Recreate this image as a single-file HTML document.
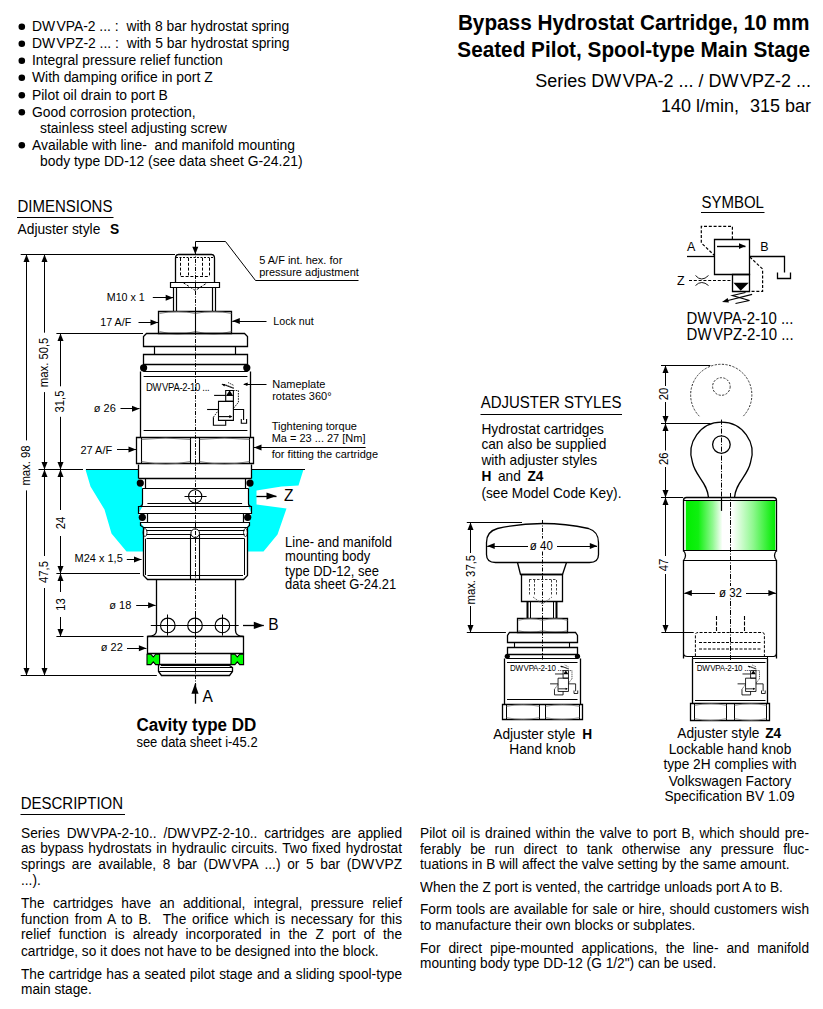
<!DOCTYPE html>
<html><head><meta charset="utf-8">
<style>
html,body{margin:0;padding:0;background:#fff;}
body{width:823px;height:1009px;position:relative;overflow:hidden;font-family:"Liberation Sans",sans-serif;color:#000;}
svg{position:absolute;left:0;top:0;}
svg text{font-family:"Liberation Sans",sans-serif;fill:#000;stroke:none;}
.jl,.ll{position:absolute;font-size:13.7px;line-height:16px;white-space:nowrap;transform:scaleY(1.06);transform-origin:0 12px;}
.g{margin-left:1.2px;}
.jl{text-align:justify;text-align-last:justify;white-space:normal;}
</style></head><body>
<svg width="823" height="1009" viewBox="0 0 823 1009" stroke="#000" fill="none" stroke-linecap="butt">

<circle cx="21.8" cy="26.7" r="3.3" fill="#000" stroke="none"/>
<text transform="translate(32,31) scale(1,1.06)" font-size="13.9" text-anchor="start" >DW<tspan dx="1.25">V</tspan>PA-2 ... :&#160; with 8 bar hydrostat spring</text>
<circle cx="21.8" cy="43.7" r="3.3" fill="#000" stroke="none"/>
<text transform="translate(32,48) scale(1,1.06)" font-size="13.9" text-anchor="start" >DW<tspan dx="1.25">V</tspan>PZ-2 ... :&#160; with 5 bar hydrostat spring</text>
<circle cx="21.8" cy="60.7" r="3.3" fill="#000" stroke="none"/>
<text transform="translate(32,65) scale(1,1.06)" font-size="13.9" text-anchor="start" >Integral pressure relief function</text>
<circle cx="21.8" cy="77.7" r="3.3" fill="#000" stroke="none"/>
<text transform="translate(32,82) scale(1,1.06)" font-size="13.9" text-anchor="start" >With damping orifice in port Z</text>
<circle cx="21.8" cy="95.2" r="3.3" fill="#000" stroke="none"/>
<text transform="translate(32,99.5) scale(1,1.06)" font-size="13.9" text-anchor="start" >Pilot oil drain to port B</text>
<circle cx="21.8" cy="112.2" r="3.3" fill="#000" stroke="none"/>
<text transform="translate(32,116.5) scale(1,1.06)" font-size="13.9" text-anchor="start" >Good corrosion protection,</text>
<text transform="translate(40,132.5) scale(1,1.06)" font-size="13.9" text-anchor="start" >stainless steel adjusting screw</text>
<circle cx="21.8" cy="145.2" r="3.3" fill="#000" stroke="none"/>
<text transform="translate(32,149.5) scale(1,1.06)" font-size="13.9" text-anchor="start" >Available with line-&#160; and manifold mounting</text>
<text transform="translate(40,165.5) scale(1,1.06)" font-size="13.9" text-anchor="start" >body type DD-12 (see data sheet G-24.21)</text>
<text transform="translate(809.5,30) scale(1,1.06)" font-size="20.75" text-anchor="end" font-weight="bold" >Bypass Hydrostat Cartridge, 10 mm</text>
<text transform="translate(810,57) scale(1,1.06)" font-size="20.75" text-anchor="end" font-weight="bold" >Seated Pilot, Spool-type Main Stage</text>
<text transform="translate(811,87) scale(1,1.06)" font-size="18" text-anchor="end" >Series DW<tspan dx="1.62">V</tspan>PA-2 ... / DW<tspan dx="1.62">V</tspan>PZ-2 ...</text>
<text transform="translate(811,112) scale(1,1.06)" font-size="18" text-anchor="end" >140 l/min, <tspan dx="6">315 bar</tspan></text>
<text transform="translate(17.5,211.6) scale(1,1.06)" font-size="15" text-anchor="start" >DIMENSIONS</text>
<line x1="17" y1="217.5" x2="113.5" y2="217.5" stroke-width="1.2" />
<text transform="translate(17.5,234.3) scale(1,1.06)" font-size="13.8" text-anchor="start" >Adjuster style</text>
<text transform="translate(110,234.3) scale(1,1.06)" font-size="13.8" text-anchor="start" font-weight="bold" >S</text>
<text transform="translate(701.5,207.6) scale(1,1.06)" font-size="15" text-anchor="start" >SYMBOL</text>
<line x1="701" y1="212.5" x2="764.5" y2="212.5" stroke-width="1.2" />
<text transform="translate(480.7,408.3) scale(1,1.06)" font-size="15" text-anchor="start" >ADJUSTER STYLES</text>
<line x1="480.5" y1="414.5" x2="622" y2="414.5" stroke-width="1.2" />
<text transform="translate(20.7,808.9) scale(1,1.06)" font-size="15" text-anchor="start" >DESCRIPTION</text>
<line x1="20.5" y1="814.5" x2="125" y2="814.5" stroke-width="1.2" />
<path d="M85.5 469.5L90.5 486.5L104.5 509.5L111.5 533.5L126.5 551.5L143.5 551.5L143.5 526.5L140.5 522.5L138.5 513.5L142.5 506.5L142.5 488.5L138.5 478.5L138.5 469.5Z" stroke-width="0" fill="#00ffff" stroke="none"/>
<path d="M251.5 469.5L303.5 469.5L298.5 485.5L281.5 486.5L256.5 490.5L256.5 504.5L286.5 508.5L277.5 534.5L263.5 551.5L247.5 551.5L247.5 526.5L249.5 522.5L251.5 513.5L248.5 506.5L248.5 488.5L251.5 478.5Z" stroke-width="0" fill="#00ffff" stroke="none"/>
<line x1="86" y1="469.5" x2="138.7" y2="469.5" stroke-width="1.2" />
<line x1="251.6" y1="469.5" x2="305" y2="469.5" stroke-width="1.2" />
<path d="M175.5 282.5L175.5 258.5Q175.5 254.5 178.5 254.5L211.5 254.5Q214.5 254.5 214.5 258.5L214.5 282.5" stroke-width="1.3" fill="none" />
<line x1="176" y1="257.5" x2="214" y2="257.5" stroke-width="1" stroke-dasharray="2,1.5"/>
<line x1="180.5" y1="258" x2="180.5" y2="276" stroke-width="1" stroke-dasharray="3,1.8"/>
<line x1="188.5" y1="258" x2="188.5" y2="276" stroke-width="1" stroke-dasharray="3,1.8"/>
<line x1="202.5" y1="258" x2="202.5" y2="276" stroke-width="1" stroke-dasharray="3,1.8"/>
<line x1="209.5" y1="258" x2="209.5" y2="276" stroke-width="1" stroke-dasharray="3,1.8"/>
<line x1="180.8" y1="276.5" x2="209.7" y2="276.5" stroke-width="1" stroke-dasharray="3,1.8"/>
<path d="M183.4,282.8 L195.3,290.5 L207.2,282.8" stroke-width="1" fill="none" stroke-dasharray="2.5,1.5"/>
<path d="M170.5 282.5H219.5V287.5H170.5Z" stroke-width="1.2" fill="none" />
<line x1="173.5" y1="287.6" x2="173.5" y2="311.2" stroke-width="1.2" />
<line x1="176.5" y1="287.6" x2="176.5" y2="311.2" stroke-width="1.2" />
<line x1="212.5" y1="287.6" x2="212.5" y2="311.2" stroke-width="1.2" />
<line x1="215.5" y1="287.6" x2="215.5" y2="311.2" stroke-width="1.2" />
<path d="M158.5 311.5H231.5V333.5H158.5Z" stroke-width="1.3" fill="none" />
<line x1="195.5" y1="311.2" x2="195.5" y2="333" stroke-width="1.1" />
<path d="M159.5 313.5Q177.5 309.5 195.5 313.5Q213.5 309.5 231.5 313.5" stroke-width="0.8" fill="none" stroke="#666"/>
<path d="M159.5 331.5Q177.5 336.5 195.5 331.5Q213.5 336.5 231.5 331.5" stroke-width="0.8" fill="none" stroke="#666"/>
<path d="M143.5 346.5V336.5L146.5 333.5H244.5L247.5 336.5V346.5Z" stroke-width="1.3" fill="none" />
<line x1="154.5" y1="346.3" x2="154.5" y2="354.8" stroke-width="1.2" />
<line x1="235.5" y1="346.3" x2="235.5" y2="354.8" stroke-width="1.2" />
<path d="M143.5 354.5H247.5V364.5H143.5Z" stroke-width="1.3" fill="none" />
<path d="M143.5 364.5V371.5M247.5 364.5V371.5M143.5 371.5H247.5" stroke-width="1.2" fill="none" />
<circle cx="143.6" cy="367.8" r="3.6" fill="#000" stroke="none"/>
<circle cx="246.8" cy="367.8" r="3.6" fill="#000" stroke="none"/>
<path d="M140.5 371.5V437.5M250.5 371.5V437.5" stroke-width="1.3" fill="none" />
<line x1="143.6" y1="376.5" x2="247.4" y2="376.5" stroke-width="1.2" />
<line x1="143.6" y1="430.5" x2="247.4" y2="430.5" stroke-width="1.2" />
<text transform="translate(146,390.5) scale(1,1.06)" font-size="9.5" text-anchor="start" letter-spacing="-0.3">DW<tspan dx="0.85">V</tspan>PA-2-10 ...</text>
<path d="M136.5 437.5H253.5V463.5H136.5Z" stroke-width="1.3" fill="none" />
<line x1="141.5" y1="437.3" x2="141.5" y2="463.8" stroke-width="1.1" />
<line x1="190.5" y1="437.3" x2="190.5" y2="463.8" stroke-width="1.1" />
<line x1="199.5" y1="437.3" x2="199.5" y2="463.8" stroke-width="1.1" />
<line x1="249.5" y1="437.3" x2="249.5" y2="463.8" stroke-width="1.1" />
<path d="M141.5 439.5Q165.5 436.5 190.5 439.5M199.5 439.5Q224.5 436.5 249.5 439.5" stroke-width="0.8" fill="none" stroke="#666"/>
<path d="M141.5 461.5Q165.5 466.5 190.5 461.5M199.5 461.5Q224.5 466.5 249.5 461.5" stroke-width="0.8" fill="none" stroke="#666"/>
<path d="M138.5 464.5V478.5M251.5 464.5V478.5M138.5 478.5H251.5" stroke-width="1.3" fill="none" />
<path d="M145.5 478.5V488.5M245.5 478.5V488.5M142.5 488.5H248.5" stroke-width="1.2" fill="none" />
<circle cx="140.3" cy="483.1" r="3.6" fill="#000" stroke="none"/>
<circle cx="250" cy="483.1" r="3.6" fill="#000" stroke="none"/>
<path d="M142.5 488.5V503.5Q142.5 506.5 139.5 506.5M248.5 488.5V503.5Q248.5 506.5 251.5 506.5" stroke-width="1.2" fill="none" />
<line x1="147.4" y1="503.5" x2="242.1" y2="503.5" stroke-width="1.1" />
<circle cx="195.2" cy="496.4" r="6.6" stroke-width="1.1"/>
<line x1="184.5" y1="496.5" x2="206.6" y2="496.5" stroke-width="1" />
<path d="M138.5 506.5H251.5V513.5H138.5Z" stroke-width="1.2" fill="none" />
<path d="M147.5 513.5V522.5M243.5 513.5V522.5" stroke-width="1.2" fill="none" />
<circle cx="142.3" cy="517.3" r="3.6" fill="#000" stroke="none"/>
<circle cx="247.7" cy="517.3" r="3.6" fill="#000" stroke="none"/>
<path d="M140.5 522.5H249.5V525.5L247.5 527.5H143.5L140.5 525.5Z" stroke-width="1.2" fill="none" />
<path d="M143.5 527.5V575.5L147.5 579.5H243.5L247.5 575.5V527.5" stroke-width="1.3" fill="none" />
<line x1="146.5" y1="530.5" x2="244.5" y2="530.5" stroke-width="1" />
<line x1="146.5" y1="534.5" x2="244.5" y2="534.5" stroke-width="1" />
<line x1="146.5" y1="538.5" x2="244.5" y2="538.5" stroke-width="1" />
<line x1="145.5" y1="538.7" x2="145.5" y2="575" stroke-width="1" />
<line x1="244.5" y1="538.7" x2="244.5" y2="575" stroke-width="1" />
<line x1="147.4" y1="575.5" x2="243" y2="575.5" stroke-width="1" />
<line x1="190.5" y1="534" x2="190.5" y2="579.8" stroke-width="1.1" />
<line x1="199.5" y1="534" x2="199.5" y2="579.8" stroke-width="1.1" />
<circle cx="195.2" cy="533.2" r="4.3" fill="#fff" stroke-width="1"/>
<ellipse cx="145" cy="532.5" rx="2" ry="4" stroke-width="0.8"/>
<ellipse cx="245.5" cy="532.5" rx="2" ry="4" stroke-width="0.8"/>
<path d="M156.5 579.5V630.5Q156.5 636.5 147.5 636.5M235.5 579.5V630.5Q235.5 636.5 243.5 636.5" stroke-width="1.3" fill="none" />
<circle cx="167.8" cy="625.4" r="7.3" stroke-width="1.1"/>
<line x1="167.5" y1="614.5" x2="167.5" y2="635.6" stroke-width="1" />
<circle cx="195" cy="625.4" r="7.3" stroke-width="1.1"/>
<line x1="195.5" y1="614.5" x2="195.5" y2="635.6" stroke-width="1" />
<circle cx="222.4" cy="625.4" r="7.3" stroke-width="1.1"/>
<line x1="222.5" y1="614.5" x2="222.5" y2="635.6" stroke-width="1" />
<line x1="150.8" y1="625.5" x2="238.7" y2="625.5" stroke-width="1" />
<path d="M147.5 636.5H243.5V653.5H147.5Z" stroke-width="1.3" fill="none" />
<path d="M147,654.2 H150.9 L153.3,657 L155.70000000000002,654.2 H159.6 V664.6 H155.70000000000002 L153.3,661.8 L150.9,664.6 H147 Z" fill="#00ff00" stroke="#000" stroke-width="1.1"/>
<path d="M231,654.2 H234.9 L237.3,657 L239.70000000000002,654.2 H243.6 V664.6 H239.70000000000002 L237.3,661.8 L234.9,664.6 H231 Z" fill="#00ff00" stroke="#000" stroke-width="1.1"/>
<path d="M158.5 664.5V671.5L161.5 675.5H229.5L232.5 671.5V667.5L229.5 665.5" stroke-width="1.3" fill="none" />
<line x1="159.3" y1="664.5" x2="231" y2="664.5" stroke-width="1.3" />
<line x1="161" y1="665.5" x2="230" y2="665.5" stroke-width="1" />
<line x1="160" y1="667.5" x2="232" y2="667.5" stroke-width="1.1" />
<line x1="159" y1="671.5" x2="232" y2="671.5" stroke-width="1.1" />
<line x1="195.5" y1="243" x2="195.5" y2="703" stroke-width="1" stroke-dasharray="4,1.5,1,1.5"/>
<line x1="20.7" y1="254.5" x2="175" y2="254.5" stroke-width="1" />
<line x1="56.4" y1="333.5" x2="143" y2="333.5" stroke-width="1" />
<line x1="38.5" y1="469.5" x2="83" y2="469.5" stroke-width="1" />
<line x1="56.4" y1="573.5" x2="140" y2="573.5" stroke-width="1" />
<line x1="56.4" y1="636.5" x2="143.5" y2="636.5" stroke-width="1" />
<line x1="20.7" y1="675.5" x2="156.8" y2="675.5" stroke-width="1" />
<line x1="26.5" y1="254.5" x2="26.5" y2="440.4" stroke-width="1" />
<line x1="26.5" y1="490.4" x2="26.5" y2="675.5" stroke-width="1" />
<path d="M26.5,254.5 L29.5,262.0 L23.5,262.0 Z" fill="#000" stroke="none"/>
<path d="M26.5,675.5 L23.5,668.0 L29.5,668.0 Z" fill="#000" stroke="none"/>
<text x="0" y="0" font-size="11.3" text-anchor="middle" transform="translate(30.2,465.5) rotate(-90) scale(1,1.06)">max. 98</text>
<line x1="44.5" y1="254.5" x2="44.5" y2="332.7" stroke-width="1" />
<line x1="44.5" y1="392.1" x2="44.5" y2="469.5" stroke-width="1" />
<path d="M44.5,254.5 L47.5,262.0 L41.5,262.0 Z" fill="#000" stroke="none"/>
<path d="M44.5,469.5 L41.5,462.0 L47.5,462.0 Z" fill="#000" stroke="none"/>
<text x="0" y="0" font-size="11.3" text-anchor="middle" transform="translate(48,362.4) rotate(-90) scale(1,1.06)">max. 50,5</text>
<line x1="44.5" y1="469.5" x2="44.5" y2="556" stroke-width="1" />
<line x1="44.5" y1="588" x2="44.5" y2="675.5" stroke-width="1" />
<path d="M44.5,469.5 L47.5,477.0 L41.5,477.0 Z" fill="#000" stroke="none"/>
<path d="M44.5,675.5 L41.5,668.0 L47.5,668.0 Z" fill="#000" stroke="none"/>
<text x="0" y="0" font-size="11.3" text-anchor="middle" transform="translate(48,572) rotate(-90) scale(1,1.06)">47,5</text>
<line x1="60.5" y1="333.5" x2="60.5" y2="386.3" stroke-width="1" />
<line x1="60.5" y1="416.8" x2="60.5" y2="469.5" stroke-width="1" />
<path d="M60.5,333.5 L63.5,341.0 L57.5,341.0 Z" fill="#000" stroke="none"/>
<path d="M60.5,469.5 L57.5,462.0 L63.5,462.0 Z" fill="#000" stroke="none"/>
<text x="0" y="0" font-size="11.3" text-anchor="middle" transform="translate(63.6,401.5) rotate(-90) scale(1,1.06)">31,5</text>
<line x1="60.5" y1="469.5" x2="60.5" y2="510" stroke-width="1" />
<line x1="60.5" y1="536" x2="60.5" y2="573.5" stroke-width="1" />
<path d="M60.5,469.5 L63.5,477.0 L57.5,477.0 Z" fill="#000" stroke="none"/>
<path d="M60.5,573.5 L57.5,566.0 L63.5,566.0 Z" fill="#000" stroke="none"/>
<text x="0" y="0" font-size="11.3" text-anchor="middle" transform="translate(64.6,523) rotate(-90) scale(1,1.06)">24</text>
<line x1="60.5" y1="573.5" x2="60.5" y2="592" stroke-width="1" />
<line x1="60.5" y1="617" x2="60.5" y2="636.5" stroke-width="1" />
<path d="M60.5,573.5 L63.5,581.0 L57.5,581.0 Z" fill="#000" stroke="none"/>
<path d="M60.5,636.5 L57.5,629.0 L63.5,629.0 Z" fill="#000" stroke="none"/>
<text x="0" y="0" font-size="11.3" text-anchor="middle" transform="translate(64.6,604.5) rotate(-90) scale(1,1.06)">13</text>
<text transform="translate(144.8,300.6) scale(1,1.06)" font-size="10.7" text-anchor="end" >M10 x 1</text>
<line x1="152.8" y1="297.5" x2="173.2" y2="297.5" stroke-width="1" />
<path d="M173.2,297.8 L165.7,300.8 L165.7,294.8 Z" fill="#000" stroke="none"/>
<text transform="translate(131.2,325.6) scale(1,1.06)" font-size="10.7" text-anchor="end" >17 A/F</text>
<line x1="138.5" y1="322.5" x2="158" y2="322.5" stroke-width="1" />
<path d="M158.0,322.4 L150.5,325.4 L150.5,319.4 Z" fill="#000" stroke="none"/>
<text transform="translate(273.3,324.8) scale(1,1.06)" font-size="10.7" text-anchor="start" >Lock nut</text>
<line x1="266.5" y1="321.5" x2="232.3" y2="321.5" stroke-width="1" />
<path d="M232.3,321.0 L239.8,318.0 L239.8,324.0 Z" fill="#000" stroke="none"/>
<text transform="translate(259.2,264) scale(1,1.06)" font-size="11" text-anchor="start" >5 A/F int. hex. for</text>
<text transform="translate(259.2,276) scale(1,1.06)" font-size="11" text-anchor="start" >pressure adjustment</text>
<path d="M195.5 247.5V241.5H225.5L255.5 280.5H358.5" stroke-width="1" fill="none" />
<path d="M195.3,254.3 L192.3,246.8 L198.3,246.8 Z" fill="#000" stroke="none"/>
<text transform="translate(272.2,388.1) scale(1,1.06)" font-size="11" text-anchor="start" >Nameplate</text>
<text transform="translate(272.2,399.5) scale(1,1.06)" font-size="11" text-anchor="start" >rotates 360°</text>
<line x1="266.5" y1="384.5" x2="243.7" y2="384.5" stroke-width="1" />
<path d="M243.7,384.0 L247.7,382.4 L247.7,385.6 Z" fill="#000" stroke="none"/>
<text transform="translate(271.7,430.3) scale(1,1.06)" font-size="11" text-anchor="start" >Tightening torque</text>
<text transform="translate(271.7,442.4) scale(1,1.06)" font-size="11" text-anchor="start" >Ma = 23 ... 27 [Nm]</text>
<line x1="365.6" y1="447.5" x2="254" y2="447.5" stroke-width="1" />
<path d="M254.0,447.4 L261.5,444.4 L261.5,450.4 Z" fill="#000" stroke="none"/>
<text transform="translate(271.7,457.7) scale(1,1.06)" font-size="11" text-anchor="start" >for fitting the cartridge</text>
<text transform="translate(115.8,411.6) scale(1,1.06)" font-size="11" text-anchor="end" >ø 26</text>
<line x1="120.5" y1="408.5" x2="139.5" y2="408.5" stroke-width="1" />
<path d="M139.5,408.8 L132.0,411.8 L132.0,405.8 Z" fill="#000" stroke="none"/>
<text transform="translate(112.2,453.5) scale(1,1.06)" font-size="11" text-anchor="end" >27 A/F</text>
<line x1="117" y1="449.5" x2="136" y2="449.5" stroke-width="1" />
<path d="M136.0,449.6 L128.5,452.6 L128.5,446.6 Z" fill="#000" stroke="none"/>
<text transform="translate(122.8,562) scale(1,1.06)" font-size="11" text-anchor="end" >M24 x 1,5</text>
<line x1="126.8" y1="559.5" x2="141.5" y2="559.5" stroke-width="1" />
<path d="M141.5,559.4 L134.0,562.4 L134.0,556.4 Z" fill="#000" stroke="none"/>
<text transform="translate(131.3,608.9) scale(1,1.06)" font-size="11" text-anchor="end" >ø 18</text>
<line x1="136.2" y1="605.5" x2="155.6" y2="605.5" stroke-width="1" />
<path d="M155.6,605.2 L148.1,608.2 L148.1,602.2 Z" fill="#000" stroke="none"/>
<text transform="translate(122.8,651.4) scale(1,1.06)" font-size="11" text-anchor="end" >ø 22</text>
<line x1="127" y1="648.5" x2="146.4" y2="648.5" stroke-width="1" />
<path d="M146.4,648.2 L138.9,651.2 L138.9,645.2 Z" fill="#000" stroke="none"/>
<line x1="256.4" y1="496.5" x2="276.5" y2="496.5" stroke-width="1.3" />
<path d="M276.5,496.0 L266.5,499.6 L266.5,492.4 Z" fill="#000" stroke="none"/>
<text transform="translate(284,501.4) scale(1,1.06)" font-size="15.5" text-anchor="start" >Z</text>
<line x1="243" y1="625.5" x2="263.8" y2="625.5" stroke-width="1.3" />
<path d="M263.8,625.4 L253.8,629.0 L253.8,621.8 Z" fill="#000" stroke="none"/>
<text transform="translate(268.3,630) scale(1,1.06)" font-size="15.5" text-anchor="start" >B</text>
<line x1="195.5" y1="703.7" x2="195.5" y2="683.7" stroke-width="1.3" />
<path d="M195.0,683.7 L198.6,693.7 L191.4,693.7 Z" fill="#000" stroke="none"/>
<text transform="translate(202.5,701.5) scale(1,1.06)" font-size="15.5" text-anchor="start" >A</text>
<text transform="translate(285.1,547.3) scale(1,1.06)" font-size="13" text-anchor="start" >Line- and manifold</text>
<text transform="translate(285.1,561.2) scale(1,1.06)" font-size="13" text-anchor="start" >mounting body</text>
<text transform="translate(285.1,575.8) scale(1,1.06)" font-size="13" text-anchor="start" >type DD-12, see</text>
<text transform="translate(285.1,589.3) scale(1,1.06)" font-size="13" text-anchor="start" >data sheet G-24.21</text>
<text transform="translate(136.4,731.4) scale(1,1.06)" font-size="17" text-anchor="start" font-weight="bold" >Cavity type DD</text>
<text transform="translate(136.4,746.8) scale(1,1.06)" font-size="13" text-anchor="start" >see data sheet i-45.2</text>
<g transform="translate(207,384) scale(1.0)">
<path d="M18.7,6.5 H26.4 V17.4 H18.7 Z" stroke-width="1.1" fill="none" />
<path d="M22.6,6.3 L26.3,11.9 H18.9 Z" fill="#000" stroke="none"/>
<path d="M7.1,11.4 H18.7" stroke-width="1.1" fill="none" />
<path d="M11.5,17.4 H26.4 V36.4 H11.5 Z" stroke-width="1.1" fill="none" />
<path d="M12,32.6 H24.5" stroke-width="1.1" fill="none" />
<path d="M25.3,32.6 L22.3,31 V34.2 Z" fill="#000" stroke="none"/>
<path d="M0.1,25.5 H11.5" stroke-width="1.1" fill="none" />
<path d="M26.4,25.5 H36.6 V36" stroke-width="1.1" fill="none" />
<path d="M34.3,35 V39.3 H39.6 V35" stroke-width="1.1" fill="none" />
<path d="M18.7,36.4 V41.3 H6.4 V33.2" stroke-width="1.1" fill="none" />
<path d="M6.4,33.2 L11.5,26.2" stroke-width="0.8800000000000001" fill="none" stroke-dasharray="1.6,1"/>
<path d="M26.4,24.4 L31.4,18.3 V6.5 H26.4" stroke-width="0.8800000000000001" fill="none" stroke-dasharray="1.6,1"/>
<path d="M26.6,4.4 L15.5,0.1" stroke-width="0.8800000000000001" fill="none" />
<path d="M14.4,0 L18.5,0 L17.3,2.6 Z" fill="#000" stroke="none"/>
<path d="M21,-1.5 L27,1.5 M19,1 L27,4" stroke-width="0.77" fill="none" stroke-dasharray="1.5,0.8"/>
</g>
<line x1="250.8" y1="384.5" x2="244.2" y2="384.5" stroke-width="1" />
<path d="M244.2,384.4 L247.2,382.9 L247.2,385.9 Z" fill="#000" stroke="none"/>
<path d="M714.5 239.5H749.5V274.5H714.5Z" stroke-width="1.3" fill="none" />
<line x1="717" y1="246.5" x2="745.5" y2="246.5" stroke-width="1.4" />
<path d="M745.5,246.1 L739.0,248.9 L739.0,243.3 Z" fill="#000" stroke="none"/>
<line x1="687" y1="256.5" x2="714.5" y2="256.5" stroke-width="1.3" />
<path d="M749.5 256.5H784.5V272.5" stroke-width="1.3" fill="none" />
<path d="M777.5 272.5V278.5H790.5V272.5" stroke-width="1.3" fill="none" />
<path d="M732.4,239.3 V226.3 H701.3 V242.9 L714.5,255.5" stroke-width="1.2" fill="none" stroke-dasharray="3,1.8"/>
<path d="M749.8,257 L762.6,269 V291.4 H749.6" stroke-width="1.2" fill="none" stroke-dasharray="3,1.8"/>
<path d="M732.5 274.5H749.5V291.5H732.5Z" stroke-width="1.3" fill="none" />
<path d="M733.4,282.7 H748.8 L740.7,290.7 Z" fill="#000" stroke="none"/>
<line x1="689" y1="280.5" x2="732.5" y2="280.5" stroke-width="1.2" stroke-dasharray="3,1.8"/>
<path d="M695.5 275.5Q701.5 282.5 708.5 275.5M695.5 285.5Q701.5 279.5 708.5 285.5" stroke-width="0.9" fill="none" />
<path d="M745.5 292.5L732.5 295.5L749.5 300.5L735.5 303.5" stroke-width="1.2" fill="none" />
<line x1="752.1" y1="294.4" x2="727" y2="300.8" stroke-width="1.1" />
<path d="M722.0,302.0 L727.7,298.1 L728.9,302.6 Z" fill="#000" stroke="none"/>
<text transform="translate(677.1,284.8) scale(1,1.06)" font-size="12.5" text-anchor="start" >Z</text>
<text transform="translate(687,250.8) scale(1,1.06)" font-size="12.5" text-anchor="start" >A</text>
<text transform="translate(760.3,250.8) scale(1,1.06)" font-size="12.5" text-anchor="start" >B</text>
<text transform="translate(686.6,323.8) scale(1,1.06)" font-size="15" text-anchor="start" >DW<tspan dx="1.35">V</tspan>PA-2-10 ...</text>
<text transform="translate(686.6,340.3) scale(1,1.06)" font-size="15" text-anchor="start" >DW<tspan dx="1.35">V</tspan>PZ-2-10 ...</text>
<text transform="translate(481.4,433.5) scale(1,1.06)" font-size="13.7" text-anchor="start" >Hydrostat cartridges</text>
<text transform="translate(481.4,449.4) scale(1,1.06)" font-size="13.7" text-anchor="start" >can also be supplied</text>
<text transform="translate(481.4,465.1) scale(1,1.06)" font-size="13.7" text-anchor="start" >with adjuster styles</text>
<text transform="translate(481.4,497.6) scale(1,1.06)" font-size="13.7" text-anchor="start" >(see Model Code Key).</text>
<text transform="translate(481.4,481) scale(1,1.06)" font-size="13.7" text-anchor="start" font-weight="bold" >H</text>
<text transform="translate(498,481) scale(1,1.06)" font-size="13.7" text-anchor="start" >and</text>
<text transform="translate(527.5,481) scale(1,1.06)" font-size="13.7" text-anchor="start" font-weight="bold" >Z4</text>
<line x1="466.8" y1="522.5" x2="522" y2="522.5" stroke-width="1" />
<line x1="466.8" y1="632.5" x2="505.9" y2="632.5" stroke-width="1" />
<line x1="470.5" y1="522.5" x2="470.5" y2="553" stroke-width="1" />
<line x1="470.5" y1="606" x2="470.5" y2="632.5" stroke-width="1" />
<path d="M470.5,522.5 L473.5,530.0 L467.5,530.0 Z" fill="#000" stroke="none"/>
<path d="M470.5,632.5 L467.5,625.0 L473.5,625.0 Z" fill="#000" stroke="none"/>
<text x="0" y="0" font-size="11.3" text-anchor="middle" transform="translate(474.5,579.7) rotate(-90) scale(1,1.06)">max. 37,5</text>
<path d="M486.5 542.5Q486.5 531.5 497.5 528.5Q542.5 518.5 588.5 528.5Q598.5 531.5 598.5 542.5V554.5Q598.5 562.5 589.5 562.5H495.5Q486.5 562.5 486.5 554.5Z" stroke-width="1.3" fill="none" />
<line x1="487.2" y1="546.5" x2="528" y2="546.5" stroke-width="1" />
<line x1="557" y1="546.5" x2="597" y2="546.5" stroke-width="1" />
<path d="M487.2,546.0 L494.7,543.0 L494.7,549.0 Z" fill="#000" stroke="none"/>
<path d="M597.3,546.0 L589.8,549.0 L589.8,543.0 Z" fill="#000" stroke="none"/>
<rect x="528.5" y="539" width="28" height="12" fill="#fff" stroke="none"/>
<text transform="translate(541.3,549.5) scale(1,1.06)" font-size="11.5" text-anchor="middle" >ø 40</text>
<path d="M517.5 562.5L520.5 574.5H562.5L566.5 562.5" stroke-width="1.3" fill="none" />
<path d="M521.5 574.5H562.5V601.5H521.5Z" stroke-width="1.3" fill="none" />
<line x1="529.5" y1="580" x2="529.5" y2="596" stroke-width="1" stroke="#444" stroke-dasharray="2.5,1.5"/>
<line x1="534.5" y1="580" x2="534.5" y2="596" stroke-width="1" stroke="#444" stroke-dasharray="2.5,1.5"/>
<line x1="551.5" y1="580" x2="551.5" y2="596" stroke-width="1" stroke="#444" stroke-dasharray="2.5,1.5"/>
<line x1="556.5" y1="580" x2="556.5" y2="596" stroke-width="1" stroke="#444" stroke-dasharray="2.5,1.5"/>
<line x1="529" y1="579.5" x2="556" y2="579.5" stroke-width="1" stroke="#444" stroke-dasharray="2.5,1.5"/>
<path d="M533,597 L542.5,604 L552,597" stroke-width="0.9" fill="none" stroke="#555" stroke-dasharray="2,1.2"/>
<line x1="527.5" y1="601.5" x2="527.5" y2="618" stroke-width="2" />
<line x1="556.5" y1="601.5" x2="556.5" y2="618" stroke-width="2" />
<line x1="530.5" y1="601.5" x2="530.5" y2="618" stroke-width="1" />
<line x1="553.5" y1="601.5" x2="553.5" y2="618" stroke-width="1" />
<path d="M517.5 618.5H567.5V632.5H517.5Z" stroke-width="1.3" fill="none" />
<line x1="542.5" y1="618" x2="542.5" y2="632.1" stroke-width="1" />
<path d="M518.5 620.5Q530.5 616.5 542.5 620.5Q555.5 616.5 567.5 620.5M518.5 630.5Q530.5 634.5 542.5 630.5Q555.5 634.5 567.5 630.5" stroke-width="0.7" fill="none" stroke="#777"/>
<path d="M507.5 642.5V635.5L509.5 632.5H575.5L577.5 635.5V642.5Z" stroke-width="1.3" fill="none" />
<line x1="514.5" y1="642.3" x2="514.5" y2="647" stroke-width="1.1" />
<line x1="569.5" y1="642.3" x2="569.5" y2="647" stroke-width="1.1" />
<path d="M507.5 647.5H577.5V654.5H507.5Z" stroke-width="1.3" fill="none" />
<path d="M507.5 654.5V658.5M577.5 654.5V658.5M507.5 658.5H577.5" stroke-width="1.1" fill="none" />
<circle cx="507.3" cy="656.3" r="2.6" fill="#000" stroke="none"/>
<circle cx="577.5" cy="656.3" r="2.6" fill="#000" stroke="none"/>
<path d="M504.5 658.5V704.5M580.5 658.5V704.5" stroke-width="1.3" fill="none" />
<line x1="507" y1="662.5" x2="577.5" y2="662.5" stroke-width="1.1" />
<line x1="507" y1="699.5" x2="577.5" y2="699.5" stroke-width="1.1" />
<text transform="translate(510,670.5) scale(1,1.06)" font-size="8" text-anchor="start" letter-spacing="-0.25">DW<tspan dx="0.72">V</tspan>PA-2-10 ...</text>
<g transform="translate(550,666) scale(0.7)">
<path d="M18.7,6.5 H26.4 V17.4 H18.7 Z" stroke-width="1.2" fill="none" />
<path d="M22.6,6.3 L26.3,11.9 H18.9 Z" fill="#000" stroke="none"/>
<path d="M7.1,11.4 H18.7" stroke-width="1.2" fill="none" />
<path d="M11.5,17.4 H26.4 V36.4 H11.5 Z" stroke-width="1.2" fill="none" />
<path d="M12,32.6 H24.5" stroke-width="1.2" fill="none" />
<path d="M25.3,32.6 L22.3,31 V34.2 Z" fill="#000" stroke="none"/>
<path d="M0.1,25.5 H11.5" stroke-width="1.2" fill="none" />
<path d="M26.4,25.5 H36.6 V36" stroke-width="1.2" fill="none" />
<path d="M34.3,35 V39.3 H39.6 V35" stroke-width="1.2" fill="none" />
<path d="M18.7,36.4 V41.3 H6.4 V33.2" stroke-width="1.2" fill="none" />
<path d="M6.4,33.2 L11.5,26.2" stroke-width="0.96" fill="none" stroke-dasharray="1.6,1"/>
<path d="M26.4,24.4 L31.4,18.3 V6.5 H26.4" stroke-width="0.96" fill="none" stroke-dasharray="1.6,1"/>
<path d="M26.6,4.4 L15.5,0.1" stroke-width="0.96" fill="none" />
<path d="M14.4,0 L18.5,0 L17.3,2.6 Z" fill="#000" stroke="none"/>
<path d="M21,-1.5 L27,1.5 M19,1 L27,4" stroke-width="0.84" fill="none" stroke-dasharray="1.5,0.8"/>
</g>
<path d="M502.5 704.5H582.5V719.5H502.5Z" stroke-width="1.3" fill="none" />
<line x1="506.5" y1="704" x2="506.5" y2="719.9" stroke-width="1" />
<line x1="539.5" y1="704" x2="539.5" y2="719.9" stroke-width="1" />
<line x1="545.5" y1="704" x2="545.5" y2="719.9" stroke-width="1" />
<line x1="579.5" y1="704" x2="579.5" y2="719.9" stroke-width="1" />
<path d="M506.5 706.5Q522.5 702.5 539.5 706.5M545.5 706.5Q562.5 702.5 579.5 706.5M506.5 717.5Q522.5 721.5 539.5 717.5M545.5 717.5Q562.5 721.5 579.5 717.5" stroke-width="0.7" fill="none" stroke="#777"/>
<line x1="542.5" y1="520" x2="542.5" y2="538.5" stroke-width="1" stroke-dasharray="4,1.5,1,1.5"/>
<line x1="542.5" y1="551.5" x2="542.5" y2="660" stroke-width="1" stroke-dasharray="4,1.5,1,1.5"/>
<text transform="translate(493.3,738.9) scale(1,1.06)" font-size="13.7" text-anchor="start" >Adjuster style</text>
<text transform="translate(582.2,738.9) scale(1,1.06)" font-size="13.7" text-anchor="start" font-weight="bold" >H</text>
<text transform="translate(509.3,753.8) scale(1,1.06)" font-size="13.7" text-anchor="start" >Hand knob</text>
<defs><linearGradient id="gr" x1="0" x2="1" y1="0" y2="0"><stop offset="0" stop-color="#00ee00"/><stop offset="0.14" stop-color="#10f010"/><stop offset="0.30" stop-color="#90f890"/><stop offset="0.41" stop-color="#ffffff"/><stop offset="0.52" stop-color="#ffffff"/><stop offset="0.75" stop-color="#90f890"/><stop offset="0.94" stop-color="#20ee20"/><stop offset="1" stop-color="#00ee00"/></linearGradient></defs>
<line x1="661" y1="365.5" x2="710.4" y2="365.5" stroke-width="1" />
<line x1="661" y1="423.5" x2="710.4" y2="423.5" stroke-width="1" />
<line x1="661" y1="497.5" x2="683.2" y2="497.5" stroke-width="1" />
<line x1="661.4" y1="632.5" x2="693.7" y2="632.5" stroke-width="1" />
<line x1="665.5" y1="365.5" x2="665.5" y2="386" stroke-width="1" />
<line x1="665.5" y1="402" x2="665.5" y2="423.5" stroke-width="1" />
<path d="M665.5,365.5 L668.5,373.0 L662.5,373.0 Z" fill="#000" stroke="none"/>
<path d="M665.5,423.5 L662.5,416.0 L668.5,416.0 Z" fill="#000" stroke="none"/>
<text x="0" y="0" font-size="11.3" text-anchor="middle" transform="translate(667.5,394) rotate(-90) scale(1,1.06)">20</text>
<line x1="665.5" y1="423.5" x2="665.5" y2="450.5" stroke-width="1" />
<line x1="665.5" y1="467" x2="665.5" y2="497.5" stroke-width="1" />
<path d="M665.5,423.5 L668.5,431.0 L662.5,431.0 Z" fill="#000" stroke="none"/>
<path d="M665.5,497.5 L662.5,490.0 L668.5,490.0 Z" fill="#000" stroke="none"/>
<text x="0" y="0" font-size="11.3" text-anchor="middle" transform="translate(667.5,458.8) rotate(-90) scale(1,1.06)">26</text>
<line x1="665.5" y1="497.5" x2="665.5" y2="556" stroke-width="1" />
<line x1="665.5" y1="574" x2="665.5" y2="632.5" stroke-width="1" />
<path d="M665.5,497.5 L668.5,505.0 L662.5,505.0 Z" fill="#000" stroke="none"/>
<path d="M665.5,632.5 L662.5,625.0 L668.5,625.0 Z" fill="#000" stroke="none"/>
<text x="0" y="0" font-size="11.3" text-anchor="middle" transform="translate(668,564.9) rotate(-90) scale(1,1.06)">47</text>
<path d="M699.3,416.2 A30.6,30.6 0 1 1 743.2,416.2" stroke="#333" stroke-width="1" stroke-dasharray="2.2,1.4" fill="none"/>
<circle cx="721.4" cy="386.5" r="8.8" stroke="#333" stroke-width="1" stroke-dasharray="2.2,1.4" fill="none"/>
<path d="M708.5 497.5C707.5 482.5 695.5 476.5 692.5 462.5A30.6 30.6 0 1 1 750.5 462.5C747.5 476.5 735.5 482.5 734.5 497.5" stroke-width="1.3" fill="none" />
<circle cx="721.4" cy="444.6" r="8.8" stroke-width="1.3" fill="none"/>
<line x1="721.5" y1="419.6" x2="721.5" y2="510.9" stroke-width="1" stroke-dasharray="5,1.5,1,1.5"/>
<path d="M683.5 658.5V500.5Q683.5 497.5 686.5 497.5H773.5Q776.5 497.5 776.5 500.5V658.5" stroke-width="1.3" fill="none" />
<rect x="685.8" y="500.4" width="89.5" height="50" fill="url(#gr)" stroke="none"/>
<line x1="684" y1="500.5" x2="776" y2="500.5" stroke-width="1.2" />
<line x1="684" y1="550.5" x2="776" y2="550.5" stroke-width="1.1" />
<line x1="684" y1="560.5" x2="776" y2="560.5" stroke-width="1.1" />
<rect x="681" y="551.5" width="5" height="8.5" fill="#fff" stroke="none"/><rect x="774.5" y="551.5" width="5" height="8.5" fill="#fff" stroke="none"/>
<path d="M683.5 550.5Q687.5 555.5 683.5 560.5M776.5 550.5Q772.5 555.5 776.5 560.5" stroke-width="1.2" fill="none" />
<line x1="721.5" y1="497" x2="721.5" y2="510.9" stroke-width="1.2" />
<line x1="730.5" y1="493" x2="730.5" y2="660" stroke-width="1" stroke-dasharray="5,1.5,1,1.5"/>
<line x1="684.3" y1="593.5" x2="715" y2="593.5" stroke-width="1" />
<line x1="746" y1="593.5" x2="775.9" y2="593.5" stroke-width="1" />
<path d="M684.3,593.0 L691.8,590.0 L691.8,596.0 Z" fill="#000" stroke="none"/>
<path d="M775.9,593.0 L768.4,596.0 L768.4,590.0 Z" fill="#000" stroke="none"/>
<rect x="716" y="586" width="29" height="12" fill="#fff" stroke="none"/>
<text transform="translate(730.5,597) scale(1,1.06)" font-size="11.5" text-anchor="middle" >ø 32</text>
<line x1="716.5" y1="615.9" x2="716.5" y2="632.5" stroke-width="1.1" stroke-dasharray="4,1.5"/>
<line x1="744.5" y1="615.9" x2="744.5" y2="632.5" stroke-width="1.1" stroke-dasharray="4,1.5"/>
<path d="M695.4,656.4 V635 Q695.4,632.5 698,632.5 H762 Q764.4,632.5 764.4,635 V656.4" stroke-width="1" fill="none" stroke-dasharray="3,1.5"/>
<path d="M699,642.5 H761 M699,649 H761" stroke-width="1" fill="none" stroke-dasharray="3,1.5"/>
<path d="M683.5 653.5Q683.5 656.5 687.5 656.5H773.5Q776.5 656.5 776.5 653.5" stroke-width="1.2" fill="none" />
<line x1="692.5" y1="656.4" x2="692.5" y2="658.5" stroke-width="1" />
<line x1="767.5" y1="656.4" x2="767.5" y2="658.5" stroke-width="1" />
<line x1="692.6" y1="658.5" x2="767.6" y2="658.5" stroke-width="1.2" />
<path d="M692.5 658.5V703.5M767.5 658.5V703.5" stroke-width="1.3" fill="none" />
<line x1="695" y1="662.5" x2="765.5" y2="662.5" stroke-width="1.1" />
<line x1="695" y1="700.5" x2="765.5" y2="700.5" stroke-width="1.1" />
<text transform="translate(696.7,670.5) scale(1,1.06)" font-size="8" text-anchor="start" letter-spacing="-0.25">DW<tspan dx="0.72">V</tspan>PA-2-10 ...</text>
<g transform="translate(737.5,666) scale(0.7)">
<path d="M18.7,6.5 H26.4 V17.4 H18.7 Z" stroke-width="1.2" fill="none" />
<path d="M22.6,6.3 L26.3,11.9 H18.9 Z" fill="#000" stroke="none"/>
<path d="M7.1,11.4 H18.7" stroke-width="1.2" fill="none" />
<path d="M11.5,17.4 H26.4 V36.4 H11.5 Z" stroke-width="1.2" fill="none" />
<path d="M12,32.6 H24.5" stroke-width="1.2" fill="none" />
<path d="M25.3,32.6 L22.3,31 V34.2 Z" fill="#000" stroke="none"/>
<path d="M0.1,25.5 H11.5" stroke-width="1.2" fill="none" />
<path d="M26.4,25.5 H36.6 V36" stroke-width="1.2" fill="none" />
<path d="M34.3,35 V39.3 H39.6 V35" stroke-width="1.2" fill="none" />
<path d="M18.7,36.4 V41.3 H6.4 V33.2" stroke-width="1.2" fill="none" />
<path d="M6.4,33.2 L11.5,26.2" stroke-width="0.96" fill="none" stroke-dasharray="1.6,1"/>
<path d="M26.4,24.4 L31.4,18.3 V6.5 H26.4" stroke-width="0.96" fill="none" stroke-dasharray="1.6,1"/>
<path d="M26.6,4.4 L15.5,0.1" stroke-width="0.96" fill="none" />
<path d="M14.4,0 L18.5,0 L17.3,2.6 Z" fill="#000" stroke="none"/>
<path d="M21,-1.5 L27,1.5 M19,1 L27,4" stroke-width="0.84" fill="none" stroke-dasharray="1.5,0.8"/>
</g>
<path d="M690.5 703.5H769.5V720.5H690.5Z" stroke-width="1.3" fill="none" />
<line x1="694.5" y1="703.1" x2="694.5" y2="720.5" stroke-width="1" />
<line x1="726.5" y1="703.1" x2="726.5" y2="720.5" stroke-width="1" />
<line x1="734.5" y1="703.1" x2="734.5" y2="720.5" stroke-width="1" />
<line x1="766.5" y1="703.1" x2="766.5" y2="720.5" stroke-width="1" />
<path d="M694.5 705.5Q710.5 701.5 726.5 705.5M734.5 705.5Q750.5 701.5 766.5 705.5M694.5 718.5Q710.5 722.5 726.5 718.5M734.5 718.5Q750.5 722.5 766.5 718.5" stroke-width="0.7" fill="none" stroke="#777"/>
<text transform="translate(677.3,737.8) scale(1,1.06)" font-size="13.7" text-anchor="start" >Adjuster style</text>
<text transform="translate(765.2,737.8) scale(1,1.06)" font-size="13.7" text-anchor="start" font-weight="bold" >Z4</text>
<text transform="translate(730,753.5) scale(1,1.06)" font-size="13.7" text-anchor="middle" >Lockable hand knob</text>
<text transform="translate(730,769.3) scale(1,1.06)" font-size="13.7" text-anchor="middle" >type 2H complies with</text>
<text transform="translate(730,785.7) scale(1,1.06)" font-size="13.7" text-anchor="middle" >Volkswagen Factory</text>
<text transform="translate(729.5,801.4) scale(1,1.06)" font-size="13.7" text-anchor="middle" >Specification BV 1.09</text>
</svg>
<div class="jl" style="left:21px;top:825.50px;width:381px;">Series DW<span class="g">V</span>PA-2-10.. /DW<span class="g">V</span>PZ-2-10.. cartridges are applied</div>
<div class="jl" style="left:21px;top:841.10px;width:381px;">as bypass hydrostats in hydraulic circuits. Two fixed hydrostat</div>
<div class="jl" style="left:21px;top:856.80px;width:381px;">springs are available, 8 bar (DW<span class="g">V</span>PA ...) or 5 bar (DW<span class="g">V</span>PZ</div>
<div class="ll" style="left:21px;top:872.80px;width:381px;">...).</div>
<div class="jl" style="left:21px;top:895.70px;width:381px;">The cartridges have an additional, integral, pressure relief</div>
<div class="jl" style="left:21px;top:911.70px;width:381px;">function from A to B.&#160; The orifice which is necessary for this</div>
<div class="jl" style="left:21px;top:927.40px;width:381px;">relief function is already incorporated in the Z port of the</div>
<div class="ll" style="left:21px;top:943.50px;width:381px;">cartridge, so it does not have to be designed into the block.</div>
<div class="jl" style="left:21px;top:966.60px;width:381px;">The cartridge has a seated pilot stage and a sliding spool-type</div>
<div class="ll" style="left:21px;top:982.10px;width:381px;">main stage.</div>
<div class="jl" style="left:420px;top:825.70px;width:389px;">Pilot oil is drained within the valve to port B, which should pre-</div>
<div class="jl" style="left:420px;top:841.80px;width:389px;">ferably be run direct to tank otherwise any pressure fluc-</div>
<div class="ll" style="left:420px;top:857.10px;width:389px;">tuations in B will affect the valve setting by the same amount.</div>
<div class="ll" style="left:420px;top:880.10px;width:389px;">When the Z port is vented, the cartridge unloads port A to B.</div>
<div class="jl" style="left:420px;top:902.20px;width:389px;">Form tools are available for sale or hire, should customers wish</div>
<div class="ll" style="left:420px;top:918.30px;width:389px;">to manufacture their own blocks or subplates.</div>
<div class="jl" style="left:420px;top:940.50px;width:389px;">For direct pipe-mounted applications, the line- and manifold</div>
<div class="ll" style="left:420px;top:956.10px;width:389px;">mounting body type DD-12 (G 1/2") can be used.</div>
</body></html>
